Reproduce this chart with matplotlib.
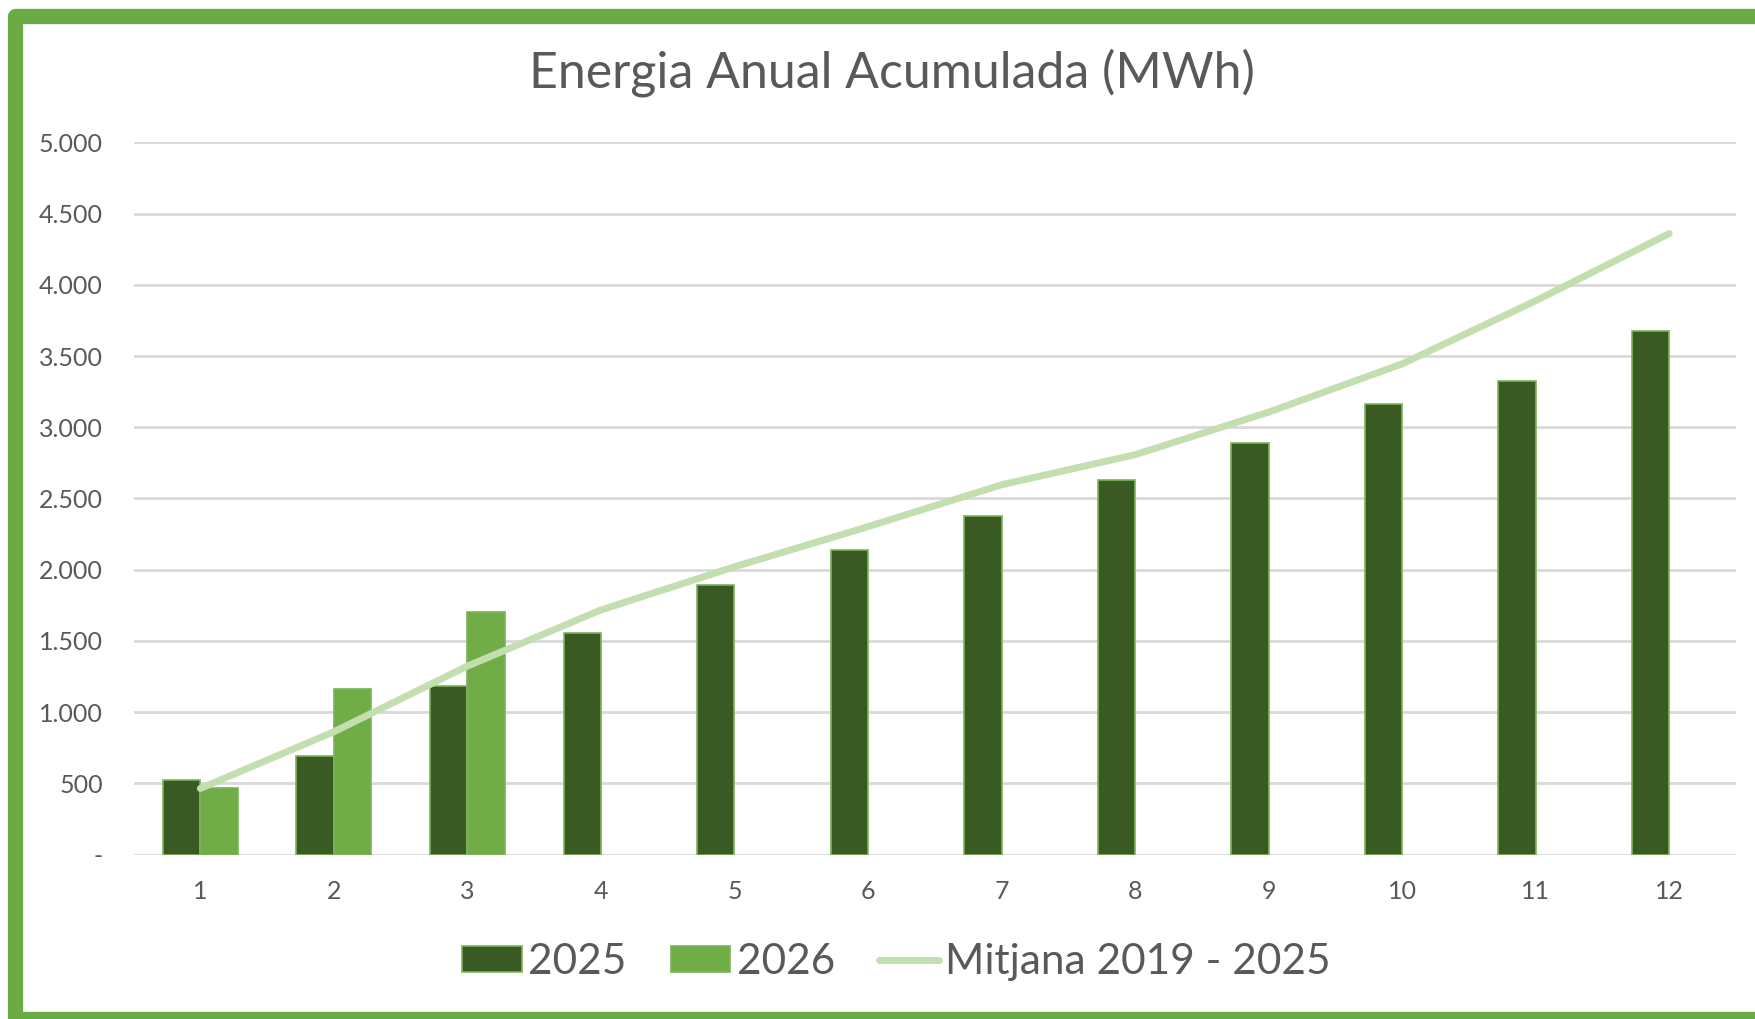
import matplotlib.pyplot as plt
from matplotlib.patches import Rectangle, Patch
from matplotlib.lines import Line2D
from matplotlib.ticker import FuncFormatter

plt.rcParams['font.family'] = ['Lato', 'DejaVu Sans']

# data
months = [1, 2, 3, 4, 5, 6, 7, 8, 9, 10, 11, 12]
energy_2025 = [525, 695, 1180, 1555, 1895, 2135, 2375, 2630, 2888, 3160, 3328, 3675]
months_2026 = [1, 2, 3]
energy_2026 = [466, 1160, 1700]
mitjana = [464, 862, 1323, 1717, 2020, 2302, 2596, 2807, 3106, 3445, 3888, 4360]

dark_green = '#3a5a23'
mid_green = '#70ad47'
light_green = '#c3dfb0'
edge_green = '#7cb35a'
text_grey = '#595959'

fig = plt.figure(figsize=(17.55, 10.19), dpi=100)
ax = fig.add_axes([0.0761, 0.1614, 0.9131, 0.6989])

w = 0.28
ax.bar([m - w / 2 for m in months], energy_2025, width=w, color=dark_green,
       edgecolor=edge_green, linewidth=1.2, zorder=2)
ax.bar([m + w / 2 for m in months_2026], energy_2026, width=w, color=mid_green,
       edgecolor=edge_green, linewidth=1.2, zorder=2)
ax.plot(months, mitjana, color=light_green, linewidth=5, solid_capstyle='round', zorder=3)

ax.set_xlim(0.5, 12.5)
ax.set_ylim(0, 5000)
ax.set_yticks(range(0, 5001, 500))
ax.set_xticks(months)


def fmt(v, pos):
    if v == 0:
        return '-'
    return f'{int(v):,}'.replace(',', '.')


ax.yaxis.set_major_formatter(FuncFormatter(fmt))
ax.grid(axis='y', color='#d9d9d9', linewidth=2, zorder=0)
ax.set_axisbelow(True)
for s in ax.spines.values():
    s.set_visible(False)
ax.tick_params(axis='both', length=0, labelsize=18, labelcolor=text_grey)
ax.tick_params(axis='y', pad=22)
ax.tick_params(axis='x', pad=18.5)

fig.text(0.508, 0.9287, 'Energia Anual Acumulada (MWh)', ha='center', va='center',
         fontsize=36, color=text_grey)

# legend with proxy handles, in the reference order
handles = [Patch(facecolor=dark_green, edgecolor=edge_green, linewidth=1.2),
           Patch(facecolor=mid_green, edgecolor=edge_green, linewidth=1.2),
           Line2D([], [], color=light_green, linewidth=5, solid_capstyle='round')]
labels = ['2025', '2026', 'Mitjana 2019 - 2025']
leg = fig.legend(handles, labels, loc='center', bbox_to_anchor=(0.5108, 0.056), ncol=3,
                 frameon=False, fontsize=30.5, handlelength=1.4, handleheight=0.6,
                 handletextpad=0.15, columnspacing=1.05)
for t in leg.get_texts():
    t.set_color(text_grey)

# green frame around the chart
frame = Rectangle((15.5 / 1755, 0.0), 1.05, 1 - 15.5 / 1019, transform=fig.transFigure,
                  fill=False, edgecolor='#6aab45', linewidth=11, joinstyle='round')
fig.patches.append(frame)

fig.savefig('out.png', dpi=100)
